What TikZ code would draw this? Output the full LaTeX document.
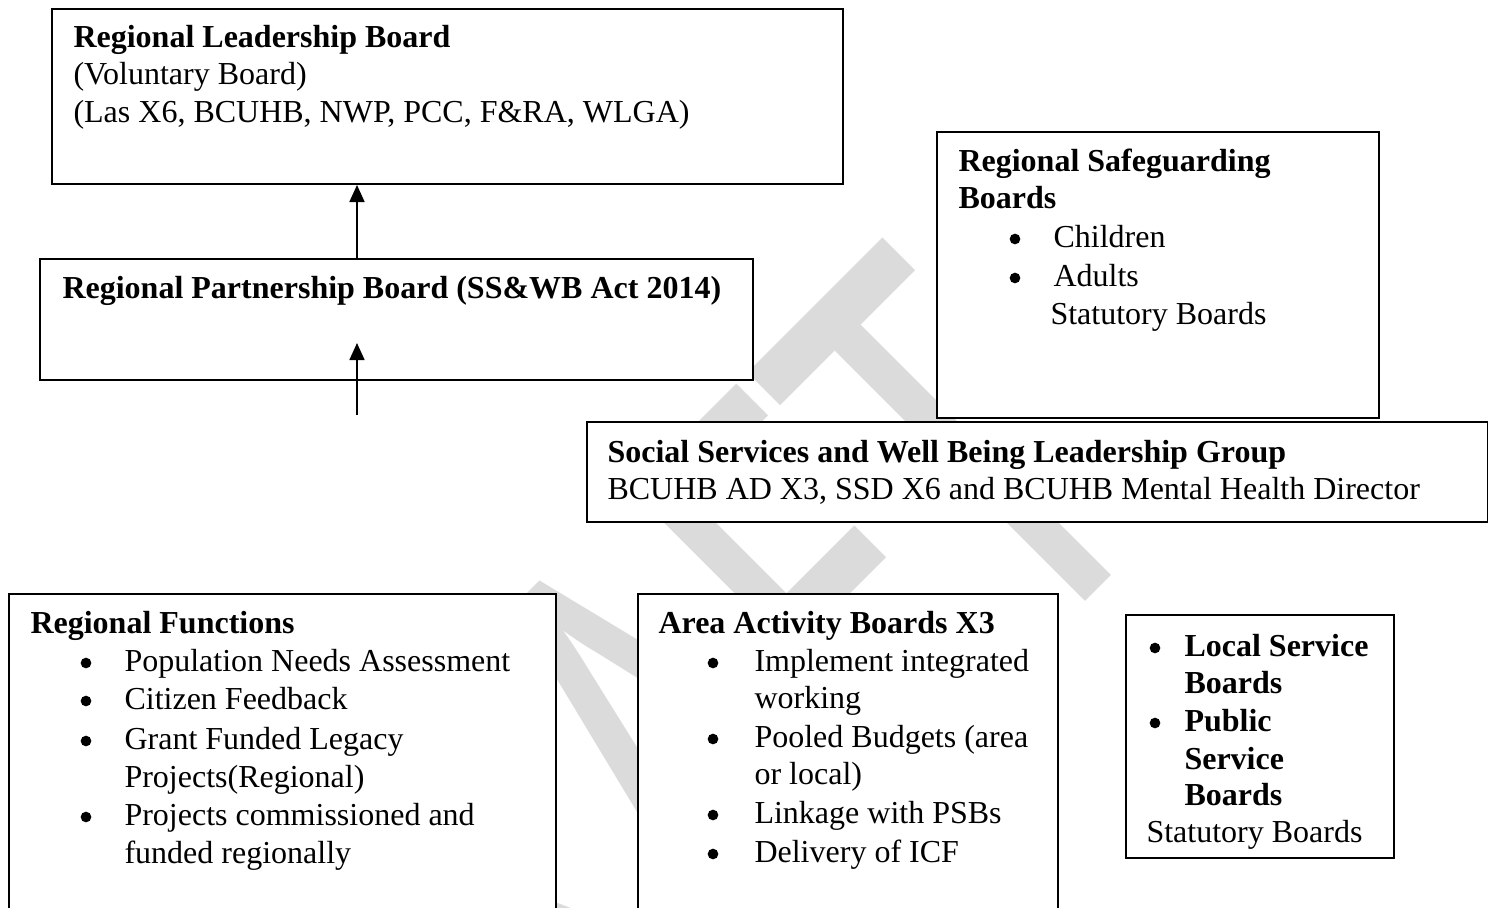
\documentclass[tikz,border=0pt]{standalone}
\usepackage{fontspec}
\setmainfont{Liberation Serif}
\newfontfamily\wmfont{Carlito}
\usetikzlibrary{arrows.meta}
\begin{document}
\begin{tikzpicture}[x=0.375pt,y=-0.375pt,font=\fontsize{12pt}{14pt}\selectfont,
    board/.style={draw,line width=0.75pt,fill=white,inner sep=0pt,anchor=north west},
    hd/.style={anchor=base west,inner sep=0pt,font=\fontsize{12pt}{14pt}\selectfont\bfseries},
    txt/.style={anchor=base west,inner sep=0pt},
    blt/.style={circle,fill=black,inner sep=0pt,minimum size=4pt},
    up/.style={line width=0.75pt,-{Triangle[length=6.4pt,width=5.6pt]}}]
  \useasboundingbox (0,0) rectangle (1488,908);
  \clip (0,0) rectangle (1488,908);
  \begin{scope}[shift={(1170,517)}]
    \node[rotate=45,xscale=0.66,anchor=base east,inner sep=0pt,text=black!14,
      font={\wmfont\fontsize{234pt}{234pt}\selectfont}] (wm) at (0,0) {DRAFT};
  \end{scope}
  \node[board,minimum width=296.6pt,minimum height=65.6pt] (rlb) at (51,8) {};
  \node[board,minimum width=267.4pt,minimum height=45.4pt] (rpb) at (39,258) {};
  \node[board,minimum width=165.8pt,minimum height=107.3pt] (rsb) at (936,131) {};
  \node[board,minimum width=337.9pt,minimum height=37.5pt] (ssw) at (586,421) {};
  \node[board,minimum width=205.1pt,minimum height=123.8pt] (rfn) at (8,593) {};
  \node[board,minimum width=157.5pt,minimum height=123.8pt] (aab) at (637,593) {};
  \node[board,minimum width=100.5pt,minimum height=91.1pt] (psb) at (1125,614) {};
  \node[hd] (rlb-t) at (73,47) {Regional Leadership Board};
  \node[txt] (rlb-a) at (73,84) {(Voluntary Board)};
  \node[txt] (rlb-b) at (73,122) {(Las X6, BCUHB, NWP, PCC, F\&RA, WLGA)};
  \node[hd] (rpb-t) at (62,298) {Regional Partnership Board (SS\&WB Act 2014)};
  \node[hd] (rsb-t) at (958,171) {Regional Safeguarding};
  \node[hd] (rsb-u) at (958,208) {Boards};
  \node[blt] (rsb-b1) at (1015,239) {};
  \node[txt] (rsb-1) at (1053,247) {Children};
  \node[blt] (rsb-b2) at (1015,278) {};
  \node[txt] (rsb-2) at (1053,286) {Adults};
  \node[txt] (rsb-s) at (1050,324) {Statutory Boards};
  \node[hd] (ssw-t) at (607,462) {Social Services and Well Being Leadership Group};
  \node[txt] (ssw-a) at (607,499) {BCUHB AD X3, SSD X6 and BCUHB Mental Health Director};
  \node[hd] (rfn-t) at (30,633) {Regional Functions};
  \node[blt] (rfn-b1) at (86,663) {};
  \node[txt] (rfn-1) at (124,671) {Population Needs Assessment};
  \node[blt] (rfn-b2) at (86,701) {};
  \node[txt] (rfn-2) at (124,709) {Citizen Feedback};
  \node[blt] (rfn-b3) at (86,741) {};
  \node[txt] (rfn-3) at (124,749) {Grant Funded Legacy};
  \node[txt] (rfn-3b) at (124,787) {Projects(Regional)};
  \node[blt] (rfn-b4) at (86,817) {};
  \node[txt] (rfn-4) at (124,825) {Projects commissioned and};
  \node[txt] (rfn-4b) at (124,863) {funded regionally};
  \node[hd] (aab-t) at (658,633) {Area Activity Boards X3};
  \node[blt] (aab-b1) at (713,663) {};
  \node[txt] (aab-1) at (754,671) {Implement integrated};
  \node[txt] (aab-1b) at (754,708) {working};
  \node[blt] (aab-b2) at (713,739) {};
  \node[txt] (aab-2) at (754,747) {Pooled Budgets (area};
  \node[txt] (aab-2b) at (754,784) {or local)};
  \node[blt] (aab-b3) at (713,815) {};
  \node[txt] (aab-3) at (754,823) {Linkage with PSBs};
  \node[blt] (aab-b4) at (713,854) {};
  \node[txt] (aab-4) at (754,862) {Delivery of ICF};
  \node[blt] (psb-b1) at (1155,648) {};
  \node[hd] (psb-1) at (1184,656) {Local Service};
  \node[hd] (psb-1b) at (1184,693) {Boards};
  \node[blt] (psb-b2) at (1155,723) {};
  \node[hd] (psb-2) at (1184,731) {Public};
  \node[hd] (psb-2b) at (1184,769) {Service};
  \node[hd] (psb-2c) at (1184,805) {Boards};
  \node[txt] (psb-s) at (1146,842) {Statutory Boards};
  \coordinate (feed) at (357,415);
  \coordinate (feedtip) at (357,343);
  \draw[up] (rpb.north -| feed) -- (rlb.south -| feed);
  \draw[up] (feed) -- (feedtip);
\end{tikzpicture}
\end{document}
